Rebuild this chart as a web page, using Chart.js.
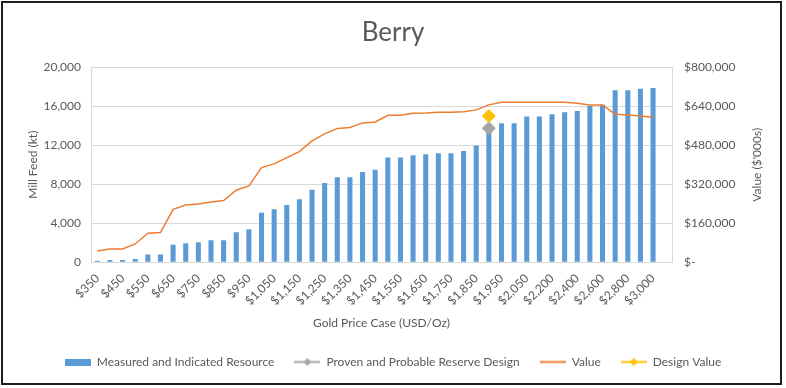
<!DOCTYPE html>
<html><head><meta charset="utf-8">
<script src="https://cdn.jsdelivr.net/npm/chart.js@4"></script>
<style>
html,body{margin:0;padding:0;background:#fff;}
#wrap{position:relative;width:786px;height:388px;overflow:hidden;}
#frame{position:absolute;left:1px;top:1px;width:781px;height:384px;border:2px solid #1e1e1e;box-sizing:border-box;pointer-events:none;}
canvas{position:absolute;left:0;top:0;}
</style></head><body>
<div id="wrap"><canvas id="c" width="786" height="388"></canvas><div id="frame"></div></div>
<script>
const chartTitle = 'Berry';
const xAxisTitle = 'Gold Price Case (USD/Oz)';
const leftAxisTitle = 'Mill Feed (kt)';
const rightAxisTitle = "Value ($'000s)";

const categories = ['$350','$400','$450','$500','$550','$600','$650','$700','$750','$800','$850','$900','$950',
  '$1,000','$1,050','$1,100','$1,150','$1,200','$1,250','$1,300','$1,350','$1,400','$1,450','$1,500','$1,550',
  '$1,600','$1,650','$1,700','$1,750','$1,800','$1,850','$1,900','$1,950','$2,000','$2,050','$2,100',
  '$2,200','$2,300','$2,400','$2,500','$2,600','$2,700','$2,800','$2,900','$3,000',''];

// Measured and Indicated Resource (kt)
const millFeed = [150,240,240,340,790,790,1810,1950,2050,2260,2260,3080,3385,
  5090,5440,5880,6460,7450,8140,8720,8720,9265,9500,10735,10735,
  10975,11080,11180,11180,11420,11970,13900,14260,14260,14940,14940,
  15180,15380,15520,16050,16150,17640,17640,17780,17880,null];

// Value ($'000s)
const valueK = [46500,54700,54700,75200,119000,121700,217400,235200,239300,247500,253000,295400,313200,
  388400,403400,429400,454000,497800,526500,548400,552500,571600,575700,603100,603100,
  611300,612600,615400,615400,617000,625000,645500,656400,656400,656400,656400,
  656400,656400,652300,645500,645500,607200,604400,600300,594800,null];

const reserveDesignCase = '$1,900';
const reserveDesignFeed = 13750;
const designValueCase = '$1,900';
const designValue = 600000;

const leftTickLabels = ['0','4,000','8,000','12,000','16,000','20,000'];
const rightTickLabels = ['$-','$160,000','$320,000','$480,000','$640,000','$800,000'];

const BLUE = '#5B9BD5', ORANGE = '#ED7D31', GREY = '#A5A5A5', GOLD = '#FFC000';
const TEXT = '#595959', GRID = '#D9D9D9';
const FONT = 'Lato';

function icon(w, h, draw) {
  const c = document.createElement('canvas');
  c.width = w; c.height = h;
  draw(c.getContext('2d'), w, h);
  return c;
}
function lineIcon(color, diamond) {
  return icon(26, 11, (g, w, h) => {
    g.strokeStyle = color; g.lineWidth = 2;
    g.beginPath(); g.moveTo(0, h / 2); g.lineTo(w, h / 2); g.stroke();
    if (diamond) {
      g.fillStyle = color; g.beginPath();
      g.moveTo(w / 2, h / 2 - 4); g.lineTo(w / 2 + 4, h / 2); g.lineTo(w / 2, h / 2 + 4); g.lineTo(w / 2 - 4, h / 2);
      g.closePath(); g.fill();
    }
  });
}
const legendIcons = [
  icon(26, 7, (g, w, h) => { g.fillStyle = BLUE; g.fillRect(0, 0, w, h); }),
  lineIcon(GREY, true),
  lineIcon(ORANGE, false),
  lineIcon(GOLD, true)
];

Chart.defaults.font.family = FONT;
Chart.defaults.color = TEXT;

const rightTitlePlugin = {
  id: 'rightTitle',
  afterDraw(chart) {
    const ctx = chart.ctx, a = chart.chartArea, s = chart.scales.y1;
    ctx.save();
    ctx.translate(s.right - 29, (a.top + a.bottom) / 2);
    ctx.rotate(-Math.PI / 2);
    ctx.font = '12px ' + FONT;
    ctx.fillStyle = TEXT;
    ctx.textAlign = 'center';
    ctx.textBaseline = 'middle';
    ctx.fillText(rightAxisTitle, 0, 0);
    ctx.restore();
  }
};

new Chart(document.getElementById('c'), {
  type: 'bar',
  data: {
    labels: categories,
    datasets: [
      { type: 'bar', label: 'Measured and Indicated Resource', data: millFeed, backgroundColor: BLUE,
        yAxisID: 'y', barPercentage: 0.4, categoryPercentage: 1.0, order: 4 },
      { type: 'line', label: 'Proven and Probable Reserve Design', data: [{x: reserveDesignCase, y: reserveDesignFeed}],
        yAxisID: 'y', showLine: false, pointStyle: 'rectRot', pointRadius: 6.5, pointBackgroundColor: GREY,
        pointBorderColor: GREY, borderColor: GREY, backgroundColor: GREY, order: 2 },
      { type: 'line', label: 'Value', data: valueK, yAxisID: 'y1', borderColor: ORANGE, backgroundColor: ORANGE,
        borderWidth: 1.5, pointRadius: 0, tension: 0, order: 3 },
      { type: 'line', label: 'Design Value', data: [{x: designValueCase, y: designValue}],
        yAxisID: 'y1', showLine: false, pointStyle: 'rectRot', pointRadius: 6.5, pointBackgroundColor: GOLD,
        pointBorderColor: GOLD, borderColor: GOLD, backgroundColor: GOLD, order: 1 }
    ]
  },
  options: {
    responsive: false,
    animation: false,
    layout: { padding: { left: 0, right: 0, top: 0, bottom: 10 } },
    plugins: {
      title: { display: true, text: chartTitle, color: TEXT, font: { size: 26, weight: 'normal' },
        padding: { top: 17, bottom: 19 } },
      legend: {
        position: 'bottom',
        labels: {
          usePointStyle: true, pointStyleWidth: 26, boxHeight: 12, padding: 20, color: TEXT,
          font: { size: 12 },
          sort: (a, b) => a.datasetIndex - b.datasetIndex,
          generateLabels: (chart) => {
            const items = Chart.defaults.plugins.legend.labels.generateLabels(chart);
            items.forEach(it => { it.pointStyle = legendIcons[it.datasetIndex]; });
            return items;
          }
        }
      },
      tooltip: { enabled: false }
    },
    scales: {
      x: {
        offset: true,
        grid: { display: false, drawTicks: false },
        border: { display: true, color: GRID },
        ticks: { autoSkip: false, minRotation: 45, maxRotation: 45, padding: 9, font: { size: 12 }, color: TEXT,
          callback: function (v, i) { return i % 2 === 0 ? categories[i] : ''; } },
        title: { display: true, text: xAxisTitle, color: TEXT, font: { size: 12 }, padding: { top: 0, bottom: 6 } },
        afterFit: (s) => { s.height = 73.7; }
      },
      y: {
        position: 'left', min: 0, max: 20000,
        grid: { color: GRID, drawTicks: false },
        border: { display: true, color: GRID },
        ticks: { stepSize: 4000, padding: 10, font: { size: 12 }, color: TEXT,
          callback: function (v, i) { return leftTickLabels[i]; } },
        title: { display: true, text: leftAxisTitle, color: TEXT, font: { size: 12 }, padding: { top: 26 } },
        afterFit: (s) => { s.width = 91; }
      },
      y1: {
        position: 'right', min: 0, max: 800000,
        grid: { drawOnChartArea: false, drawTicks: false },
        border: { display: true, color: GRID },
        ticks: { stepSize: 160000, padding: 12, font: { size: 12 }, color: TEXT,
          callback: function (v, i) { return rightTickLabels[i]; } },
        afterFit: (s) => { s.width = 114; }
      }
    }
  },
  plugins: [rightTitlePlugin]
});
</script>
</body></html>
